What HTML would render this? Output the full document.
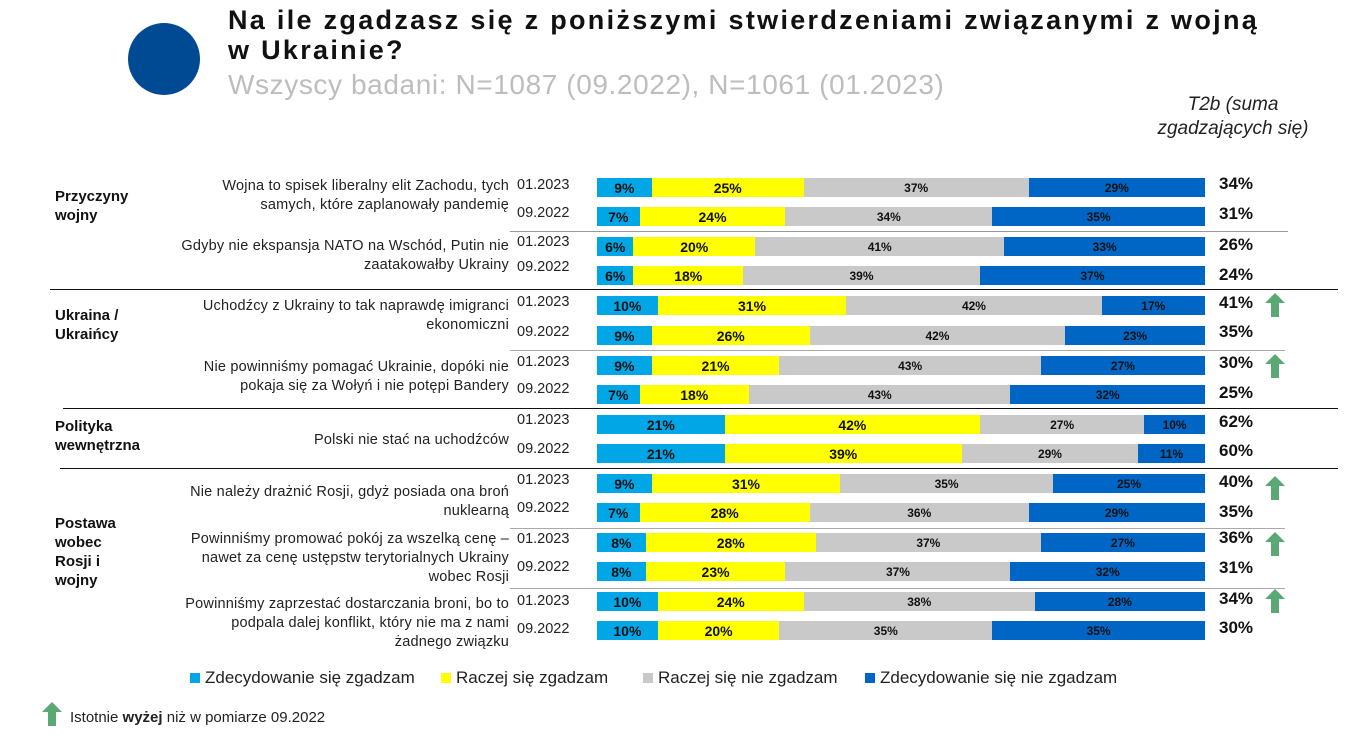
<!DOCTYPE html>
<html><head><meta charset="utf-8"><style>
body{margin:0;width:1362px;height:755px;background:#fff;font-family:"Liberation Sans",sans-serif;position:relative;overflow:hidden}
.a{position:absolute;white-space:nowrap}
.bar{position:absolute;left:597px;width:608px;height:19px;display:flex}
.bar div{height:100%;display:flex;align-items:center;justify-content:center;font-weight:bold;font-size:12px;color:#111}
.c1{background:#00a6e6;font-size:14px!important}.c2{background:#ffff00;font-size:14px!important}.c3{background:#c9c9c9}.c4{background:#0066c6}
.lab{position:absolute;right:853px;text-align:right;font-size:14.5px;line-height:19px;color:#222;letter-spacing:0.2px}
.dt{position:absolute;left:517px;font-size:14.5px;color:#222}
.cat{position:absolute;left:55px;font-weight:bold;font-size:15px;line-height:19px;color:#111}
.t2{position:absolute;left:1219px;font-weight:bold;font-size:17px;color:#111}
.hl{position:absolute;height:1px}
.arr{position:absolute;left:1265px;width:20px;height:24px}
.lg{position:absolute;top:668px;font-size:17px;color:#222}
.lg span{display:inline-block;width:10px;height:10px;margin-right:5px;vertical-align:0px}
</style></head><body>
<div class="a" style="left:128px;top:23px;width:72px;height:72px;border-radius:50%;background:#004a93"></div>
<div class="a" style="left:228px;top:5px;font-size:27px;font-weight:bold;line-height:30px;color:#111;letter-spacing:2.3px">Na ile zgadzasz się z poniższymi stwierdzeniami związanymi z wojną<br>w Ukrainie?</div>
<div class="a" style="left:228px;top:69px;font-size:28px;color:#bdbdbd;letter-spacing:0.6px">Wszyscy badani: N=1087 (09.2022), N=1061 (01.2023)</div>
<div class="a" style="left:1138px;top:93px;width:190px;text-align:center;font-size:19px;font-style:italic;line-height:24px;color:#222">T2b (suma<br>zgadzających się)</div>

<div class="cat" style="top:187px">Przyczyny<br>wojny</div>
<div class="cat" style="top:306px">Ukraina /<br>Ukraińcy</div>
<div class="cat" style="top:417px">Polityka<br>wewnętrzna</div>
<div class="cat" style="top:514px">Postawa<br>wobec<br>Rosji i<br>wojny</div>

<div class="lab" style="top:177px">Wojna to spisek liberalny elit Zachodu, tych<br>samych, które zaplanowały pandemię</div>
<div class="lab" style="top:237px">Gdyby nie ekspansja NATO na Wschód, Putin nie<br>zaatakowałby Ukrainy</div>
<div class="lab" style="top:297px">Uchodźcy z Ukrainy to tak naprawdę imigranci<br>ekonomiczni</div>
<div class="lab" style="top:358px">Nie powinniśmy pomagać Ukrainie, dopóki nie<br>pokaja się za Wołyń i nie potępi Bandery</div>
<div class="lab" style="top:431px">Polski nie stać na uchodźców</div>
<div class="lab" style="top:483px">Nie należy drażnić Rosji, gdyż posiada ona broń<br>nuklearną</div>
<div class="lab" style="top:530px">Powinniśmy promować pokój za wszelką cenę –<br>nawet za cenę ustępstw terytorialnych Ukrainy<br>wobec Rosji</div>
<div class="lab" style="top:595px">Powinniśmy zaprzestać dostarczania broni, bo to<br>podpala dalej konflikt, który nie ma z nami<br>żadnego związku</div>

<div class="dt" style="top:177px">01.2023</div><div class="dt" style="top:205px">09.2022</div>
<div class="dt" style="top:234px">01.2023</div><div class="dt" style="top:259px">09.2022</div>
<div class="dt" style="top:294px">01.2023</div><div class="dt" style="top:324px">09.2022</div>
<div class="dt" style="top:354px">01.2023</div><div class="dt" style="top:381px">09.2022</div>
<div class="dt" style="top:412px">01.2023</div><div class="dt" style="top:441px">09.2022</div>
<div class="dt" style="top:472px">01.2023</div><div class="dt" style="top:500px">09.2022</div>
<div class="dt" style="top:531px">01.2023</div><div class="dt" style="top:559px">09.2022</div>
<div class="dt" style="top:593px">01.2023</div><div class="dt" style="top:621px">09.2022</div>

<div class="bar" style="top:178px"><div class="c1" style="flex:9">9%</div><div class="c2" style="flex:25">25%</div><div class="c3" style="flex:37">37%</div><div class="c4" style="flex:29">29%</div></div>
<div class="bar" style="top:207px"><div class="c1" style="flex:7">7%</div><div class="c2" style="flex:24">24%</div><div class="c3" style="flex:34">34%</div><div class="c4" style="flex:35">35%</div></div>
<div class="bar" style="top:237px"><div class="c1" style="flex:6">6%</div><div class="c2" style="flex:20">20%</div><div class="c3" style="flex:41">41%</div><div class="c4" style="flex:33">33%</div></div>
<div class="bar" style="top:266px"><div class="c1" style="flex:6">6%</div><div class="c2" style="flex:18">18%</div><div class="c3" style="flex:39">39%</div><div class="c4" style="flex:37">37%</div></div>
<div class="bar" style="top:296px"><div class="c1" style="flex:10">10%</div><div class="c2" style="flex:31">31%</div><div class="c3" style="flex:42">42%</div><div class="c4" style="flex:17">17%</div></div>
<div class="bar" style="top:326px"><div class="c1" style="flex:9">9%</div><div class="c2" style="flex:26">26%</div><div class="c3" style="flex:42">42%</div><div class="c4" style="flex:23">23%</div></div>
<div class="bar" style="top:356px"><div class="c1" style="flex:9">9%</div><div class="c2" style="flex:21">21%</div><div class="c3" style="flex:43">43%</div><div class="c4" style="flex:27">27%</div></div>
<div class="bar" style="top:385px"><div class="c1" style="flex:7">7%</div><div class="c2" style="flex:18">18%</div><div class="c3" style="flex:43">43%</div><div class="c4" style="flex:32">32%</div></div>
<div class="bar" style="top:415px"><div class="c1" style="flex:21">21%</div><div class="c2" style="flex:42">42%</div><div class="c3" style="flex:27">27%</div><div class="c4" style="flex:10">10%</div></div>
<div class="bar" style="top:444px"><div class="c1" style="flex:21">21%</div><div class="c2" style="flex:39">39%</div><div class="c3" style="flex:29">29%</div><div class="c4" style="flex:11">11%</div></div>
<div class="bar" style="top:474px"><div class="c1" style="flex:9">9%</div><div class="c2" style="flex:31">31%</div><div class="c3" style="flex:35">35%</div><div class="c4" style="flex:25">25%</div></div>
<div class="bar" style="top:503px"><div class="c1" style="flex:7">7%</div><div class="c2" style="flex:28">28%</div><div class="c3" style="flex:36">36%</div><div class="c4" style="flex:29">29%</div></div>
<div class="bar" style="top:533px"><div class="c1" style="flex:8">8%</div><div class="c2" style="flex:28">28%</div><div class="c3" style="flex:37">37%</div><div class="c4" style="flex:27">27%</div></div>
<div class="bar" style="top:562px"><div class="c1" style="flex:8">8%</div><div class="c2" style="flex:23">23%</div><div class="c3" style="flex:37">37%</div><div class="c4" style="flex:32">32%</div></div>
<div class="bar" style="top:592px"><div class="c1" style="flex:10">10%</div><div class="c2" style="flex:24">24%</div><div class="c3" style="flex:38">38%</div><div class="c4" style="flex:28">28%</div></div>
<div class="bar" style="top:621px"><div class="c1" style="flex:10">10%</div><div class="c2" style="flex:20">20%</div><div class="c3" style="flex:35">35%</div><div class="c4" style="flex:35">35%</div></div>

<div class="t2" style="top:174px">34%</div><div class="t2" style="top:204px">31%</div>
<div class="t2" style="top:235px">26%</div><div class="t2" style="top:265px">24%</div>
<div class="t2" style="top:293px">41%</div><div class="t2" style="top:322px">35%</div>
<div class="t2" style="top:353px">30%</div><div class="t2" style="top:383px">25%</div>
<div class="t2" style="top:412px">62%</div><div class="t2" style="top:441px">60%</div>
<div class="t2" style="top:472px">40%</div><div class="t2" style="top:502px">35%</div>
<div class="t2" style="top:528px">36%</div><div class="t2" style="top:558px">31%</div>
<div class="t2" style="top:589px">34%</div><div class="t2" style="top:618px">30%</div>

<svg class="arr" style="top:293px" viewBox="0 0 20 24"><path d="M10 0L20 10H14V24H6V10H0Z" fill="#5aa873"/></svg>
<svg class="arr" style="top:354px" viewBox="0 0 20 24"><path d="M10 0L20 10H14V24H6V10H0Z" fill="#5aa873"/></svg>
<svg class="arr" style="top:476px" viewBox="0 0 20 24"><path d="M10 0L20 10H14V24H6V10H0Z" fill="#5aa873"/></svg>
<svg class="arr" style="top:532px" viewBox="0 0 20 24"><path d="M10 0L20 10H14V24H6V10H0Z" fill="#5aa873"/></svg>
<svg class="arr" style="top:589px" viewBox="0 0 20 24"><path d="M10 0L20 10H14V24H6V10H0Z" fill="#5aa873"/></svg>

<div class="hl" style="left:510px;width:778px;top:231px;background:#999"></div>
<div class="hl" style="left:50px;width:1288px;top:289px;background:#111"></div>
<div class="hl" style="left:510px;width:775px;top:350px;background:#aaa"></div>
<div class="hl" style="left:63px;width:1275px;top:408px;background:#111"></div>
<div class="hl" style="left:60px;width:1278px;top:468px;background:#111"></div>
<div class="hl" style="left:510px;width:775px;top:528px;background:#aaa"></div>
<div class="hl" style="left:510px;width:775px;top:588px;background:#aaa"></div>

<div class="lg" style="left:190px"><span style="background:#00a6e6"></span>Zdecydowanie się zgadzam</div>
<div class="lg" style="left:441px"><span style="background:#ffff00"></span>Raczej się zgadzam</div>
<div class="lg" style="left:643px"><span style="background:#c9c9c9"></span>Raczej się nie zgadzam</div>
<div class="lg" style="left:865px"><span style="background:#0066c6"></span>Zdecydowanie się nie zgadzam</div>

<svg class="a" style="left:42px;top:702px" width="20" height="24" viewBox="0 0 20 24"><path d="M10 0L20 10H14V24H6V10H0Z" fill="#5aa873"/></svg>
<div class="a" style="left:70px;top:709px;font-size:15px;color:#222">Istotnie <b>wyżej</b> niż w pomiarze 09.2022</div>
</body></html>
